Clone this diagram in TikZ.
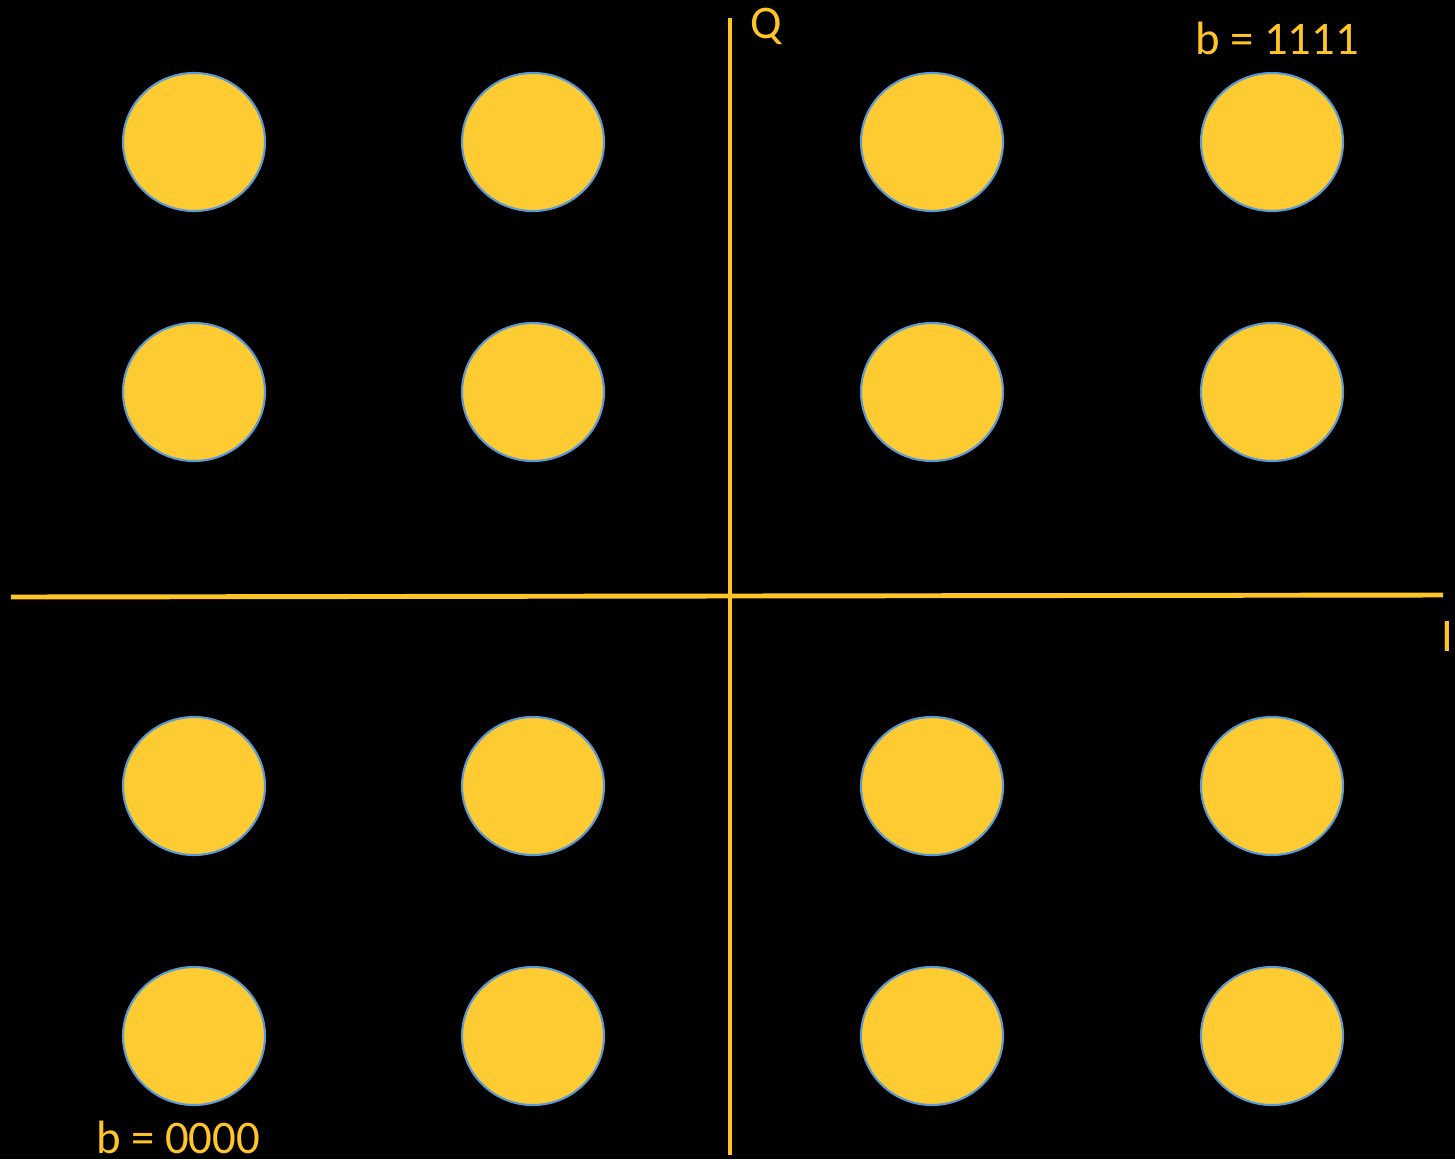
\documentclass[tikz,border=0pt]{standalone}
\usepackage{fontspec}
\setmainfont{Carlito}
\usepackage{tikz}
\usetikzlibrary{positioning,shapes.geometric}
\definecolor{qamgold}{HTML}{FFCB32}
\definecolor{qamaxis}{HTML}{FFC528}
\definecolor{qamrim}{HTML}{5B9BD5}

\begin{document}
\begin{tikzpicture}[
  symb/.style={ellipse, draw=qamrim, fill=qamgold, line width=0.6pt, inner sep=0pt, minimum width=1.42cm, minimum height=1.38cm},
  axisline/.style={draw=qamaxis, line width=1.4pt},
  lbl/.style={font=\fontsize{13.3}{16}\selectfont\color{qamaxis}, inner sep=0pt, anchor=base},
]
% canvas: 1455 x 1159 px -> 14.55 x 11.59 cm
\fill[black] (0,0) rectangle (14.55,11.59);
\useasboundingbox (0,0) rectangle (14.55,11.59);

% axes
\coordinate (iwest) at (0.11,5.62);
\coordinate (ieast) at (14.43,5.64);
\coordinate (qnorth) at (7.30,11.41);
\coordinate (qsouth) at (7.30,0.04);
\draw[axisline] (iwest) -- (ieast);
\draw[axisline] (qsouth) -- (qnorth);

% 16 constellation points
\foreach \c/\x in {0/1.94, 1/5.33, 2/9.32, 3/12.72} {
  \foreach \r/\y in {0/1.23, 1/3.73, 2/7.67, 3/10.17} {
    \node[symb] (pt\c\r) at (\x,\y) {};
  }
}

\node[lbl] (qlab) at (7.66,11.21) {Q};
\node[lbl] (ilab) at (14.475,5.08) {I};
\node[lbl] (btop) at (12.77,11.05) {b = 1111};
\node[lbl] (bbot) at (1.78,0.06) {b = 0000};
\end{tikzpicture}
\end{document}
